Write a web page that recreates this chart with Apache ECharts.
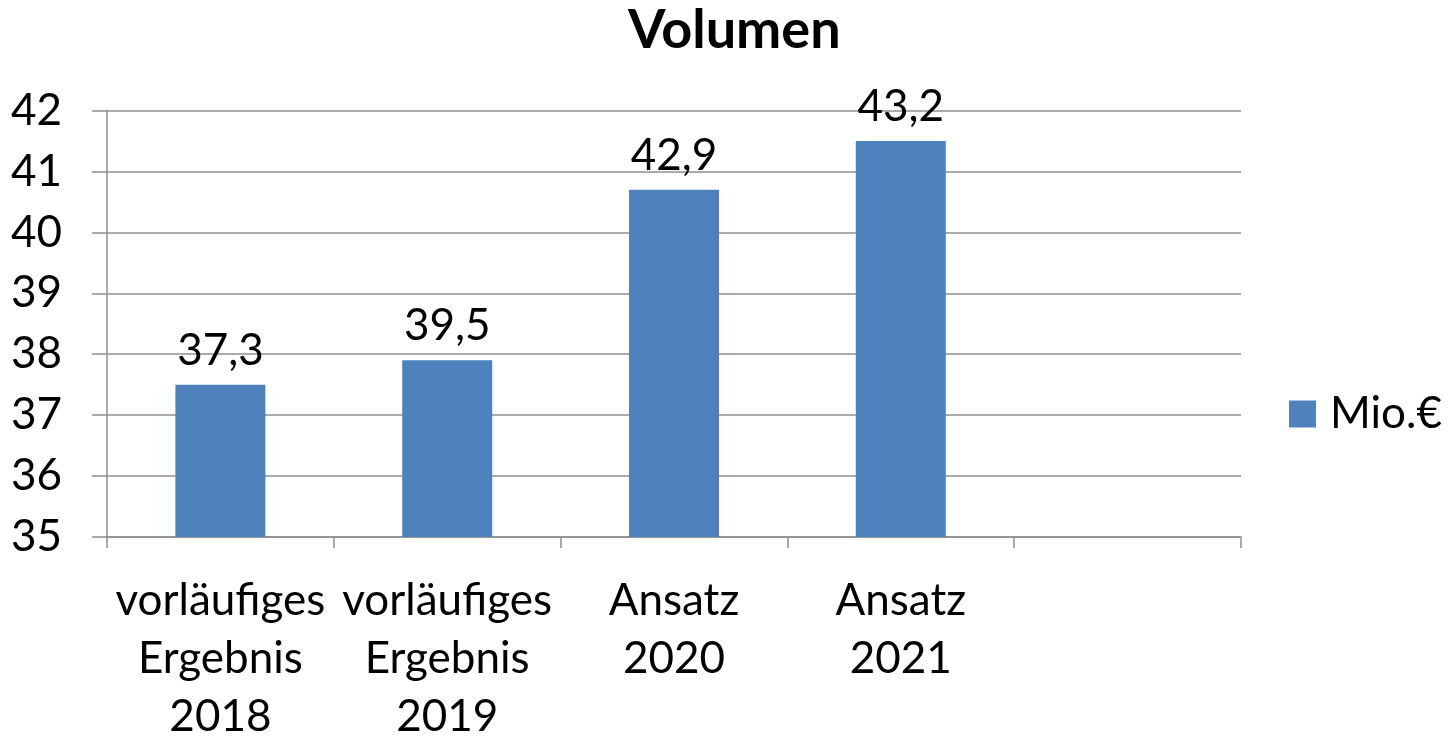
<!DOCTYPE html>
<html>
<head>
<meta charset="utf-8">
<script src="https://cdn.jsdelivr.net/npm/echarts@6/dist/echarts.min.js"></script>
<style>
html,body{margin:0;padding:0;background:#fff;}
#c{width:1456px;height:736px;}
</style>
</head>
<body>
<div id="c"></div>
<script>
const categories = ['vorläufiges\nErgebnis\n2018', 'vorläufiges\nErgebnis\n2019', 'Ansatz\n2020', 'Ansatz\n2021', ''];
const barValues = [37.5, 37.9, 40.7, 41.5];
const labelTexts = ['37,3', '39,5', '42,9', '43,2'];
const yTicks = [35, 36, 37, 38, 39, 40, 41, 42];
const seriesName = 'Mio.€';
const titleText = 'Volumen';

const FONT = 'Lato';
const GRAY = '#8f8f8f';
const chart = echarts.init(document.getElementById('c'), null, {renderer: 'canvas'});
chart.setOption({
  animation: false,
  backgroundColor: '#fff',
  title: {
    text: titleText, left: 628, top: 4, padding: 0,
    textStyle: {fontFamily: FONT, fontWeight: 'bold', fontSize: 54, color: '#000'}
  },
  legend: {
    data: [seriesName], left: 1289, top: 392, padding: 0,
    itemWidth: 27, itemHeight: 27, icon: 'rect',
    textStyle: {fontFamily: FONT, fontSize: 44, color: '#000', lineHeight: 44, padding: [0, 0, 0, 9]}
  },
  grid: {left: 107, right: 215, top: 110.5, bottom: 199, containLabel: false, outerBoundsMode: 'none'},
  xAxis: {
    type: 'category', data: categories,
    axisLine: {lineStyle: {color: GRAY, width: 1.5}},
    axisTick: {show: true, length: 11, lineStyle: {color: GRAY, width: 1.5}},
    axisLabel: {fontFamily: FONT, fontSize: 44, color: '#000', lineHeight: 58, margin: 35, interval: 0}
  },
  yAxis: {
    type: 'value', min: yTicks[0], max: yTicks[yTicks.length - 1], interval: 1,
    axisLine: {show: true, lineStyle: {color: GRAY, width: 1.5}},
    axisTick: {show: true, length: 15, lineStyle: {color: GRAY, width: 1.5}},
    splitLine: {lineStyle: {color: GRAY, width: 1.5}},
    axisLabel: {fontFamily: FONT, fontSize: 44, color: '#000', margin: 45}
  },
  series: [{
    name: seriesName, type: 'bar', data: barValues, barWidth: 90,
    itemStyle: {color: '#4f81bd'},
    label: {
      show: true, position: 'top', distance: 12,
      fontFamily: FONT, fontSize: 44, color: '#000',
      formatter: p => labelTexts[p.dataIndex]
    }
  }]
});
</script>
</body>
</html>
